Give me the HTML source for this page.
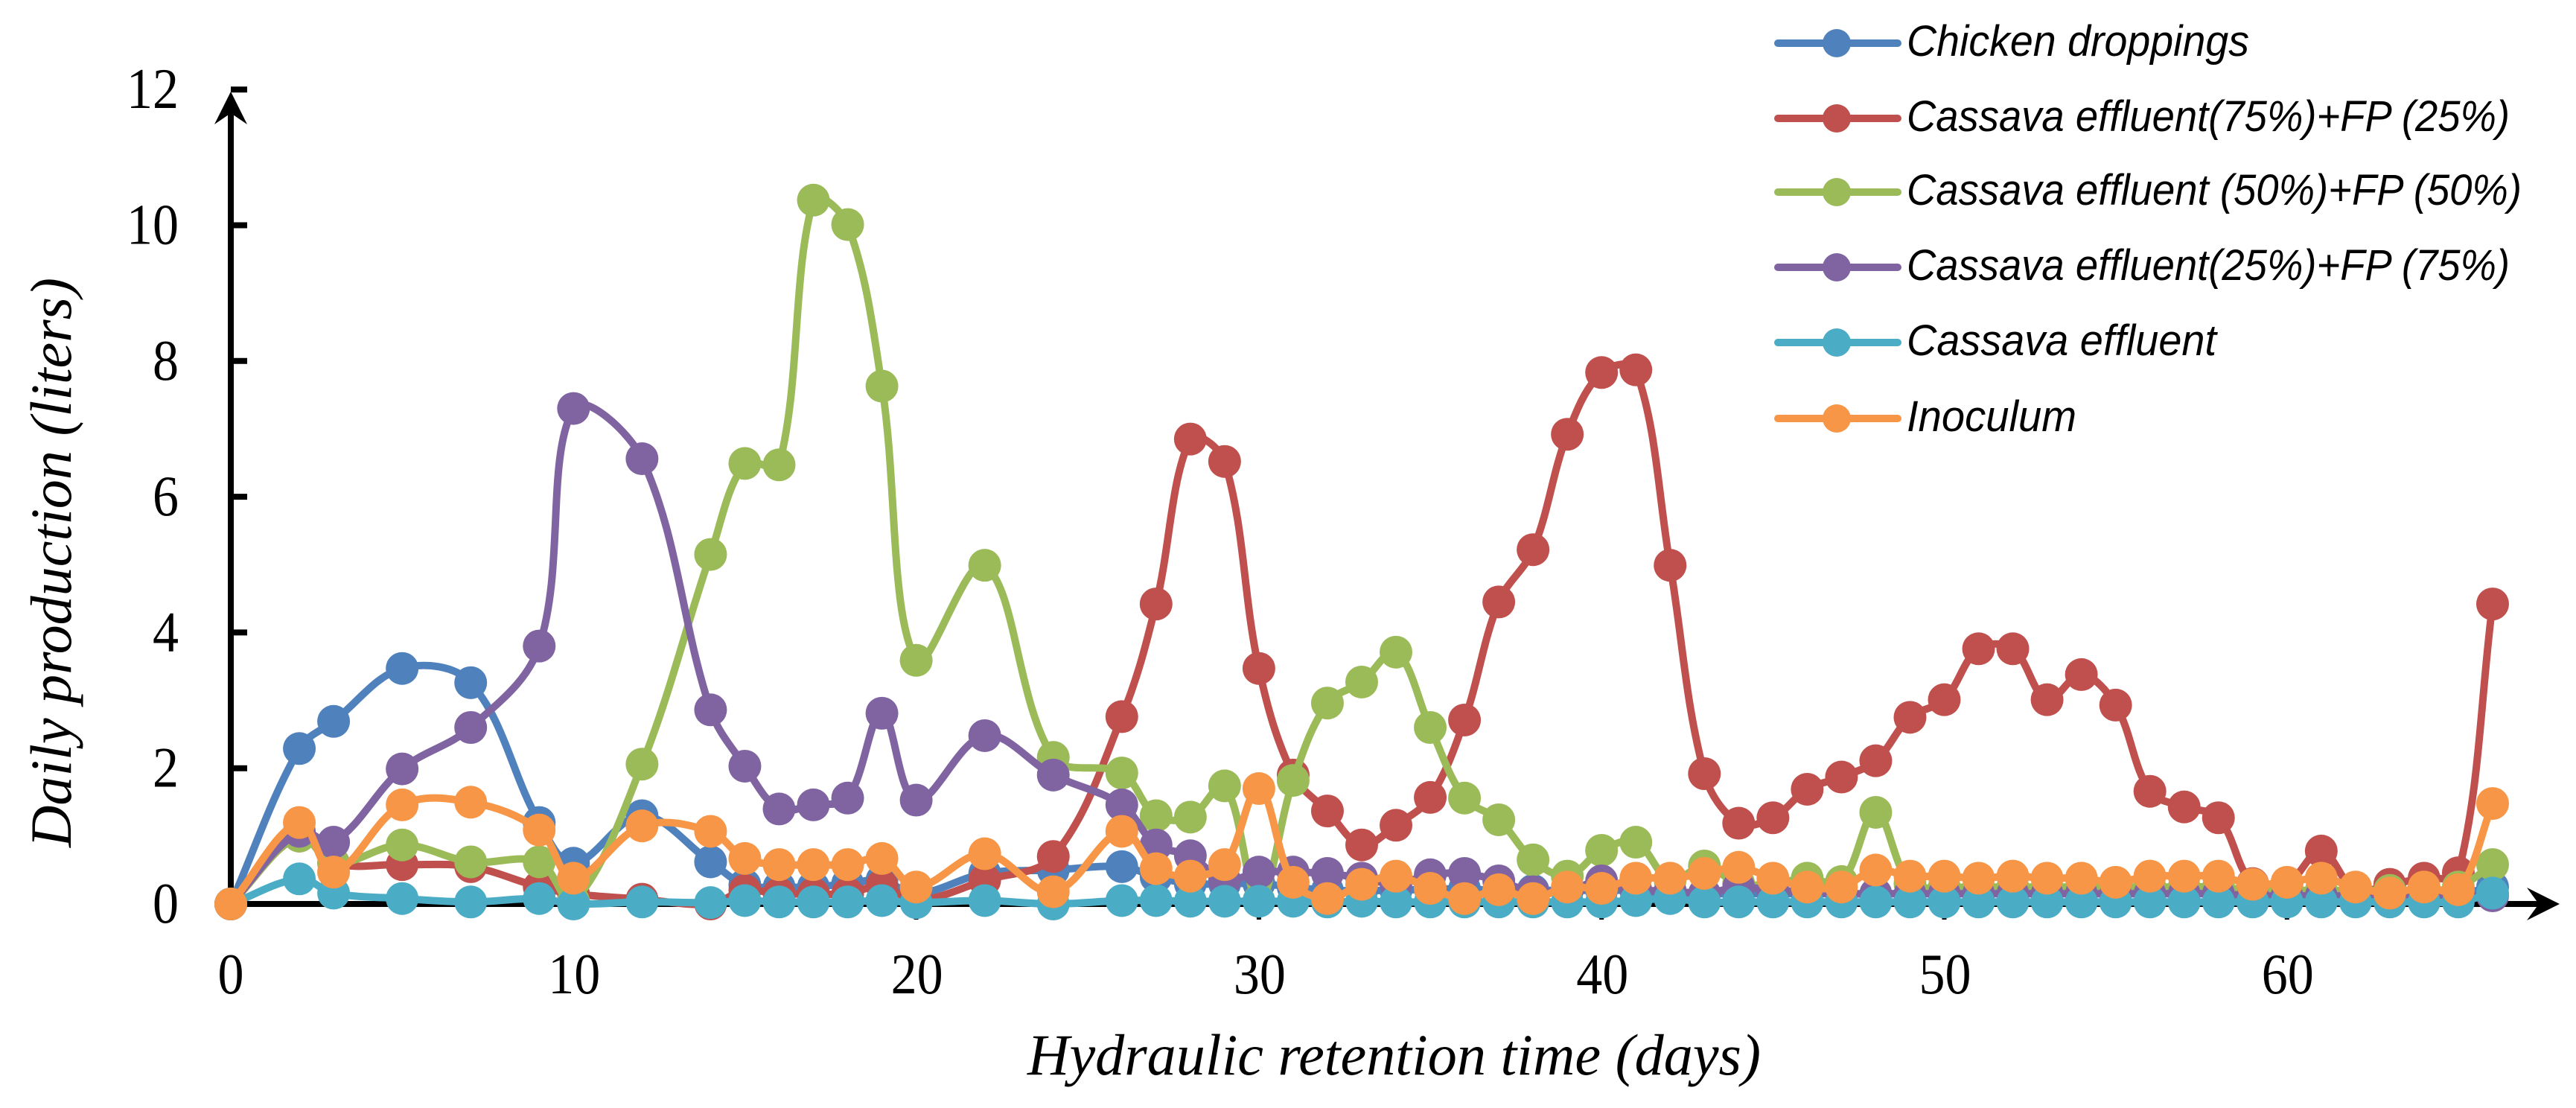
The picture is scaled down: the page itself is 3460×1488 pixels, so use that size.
<!DOCTYPE html>
<html lang="en">
<head>
<meta charset="utf-8">
<title>Daily production vs hydraulic retention time</title>
<style>
html,body{margin:0;padding:0;background:#fff;width:3460px;height:1488px;overflow:hidden}
svg{display:block}
.tick{font-family:"Liberation Serif",serif;font-size:77px;fill:#000}
.title{font-family:"Liberation Serif",serif;font-style:italic;font-size:78px;fill:#000}
.leg{font-family:"Liberation Sans",sans-serif;font-style:italic;font-size:58px;fill:#000}
</style>
</head>
<body>
<svg id="chart" xmlns="http://www.w3.org/2000/svg" width="3460" height="1488" viewBox="0 0 3460 1488">
  <rect width="3460" height="1488" fill="#fff"/>
  <g id="axes"></g>
  <g id="series"></g>
  <text class="title" x="1380" y="1443" textLength="985" lengthAdjust="spacingAndGlyphs">Hydraulic retention time (days)</text>
  <text class="title" transform="translate(95,1138) rotate(-90)" textLength="765" lengthAdjust="spacingAndGlyphs">Daily production (liters)</text>
  <g>
    <g>
      <line x1="2388" x2="2549" y1="58" y2="58" stroke="#4F81BD" stroke-width="10" stroke-linecap="round"/>
      <circle cx="2467" cy="58" r="19" fill="#4F81BD"/>
      <text class="leg" x="2561" y="75" textLength="460" lengthAdjust="spacingAndGlyphs">Chicken droppings</text>
    </g>
    <g>
      <line x1="2388" x2="2549" y1="159" y2="159" stroke="#C0504D" stroke-width="10" stroke-linecap="round"/>
      <circle cx="2467" cy="159" r="19" fill="#C0504D"/>
      <text class="leg" x="2561" y="176" textLength="810" lengthAdjust="spacingAndGlyphs">Cassava effluent(75%)+FP (25%)</text>
    </g>
    <g>
      <line x1="2388" x2="2549" y1="258" y2="258" stroke="#9BBB59" stroke-width="10" stroke-linecap="round"/>
      <circle cx="2467" cy="258" r="19" fill="#9BBB59"/>
      <text class="leg" x="2561" y="275" textLength="826" lengthAdjust="spacingAndGlyphs">Cassava effluent (50%)+FP (50%)</text>
    </g>
    <g>
      <line x1="2388" x2="2549" y1="359" y2="359" stroke="#8064A2" stroke-width="10" stroke-linecap="round"/>
      <circle cx="2467" cy="359" r="19" fill="#8064A2"/>
      <text class="leg" x="2561" y="376" textLength="810" lengthAdjust="spacingAndGlyphs">Cassava effluent(25%)+FP (75%)</text>
    </g>
    <g>
      <line x1="2388" x2="2549" y1="460" y2="460" stroke="#4BACC6" stroke-width="10" stroke-linecap="round"/>
      <circle cx="2467" cy="460" r="19" fill="#4BACC6"/>
      <text class="leg" x="2561" y="477" textLength="416" lengthAdjust="spacingAndGlyphs">Cassava effluent</text>
    </g>
    <g>
      <line x1="2388" x2="2549" y1="562" y2="562" stroke="#F79646" stroke-width="10" stroke-linecap="round"/>
      <circle cx="2467" cy="562" r="19" fill="#F79646"/>
      <text class="leg" x="2561" y="579" textLength="228" lengthAdjust="spacingAndGlyphs">Inoculum</text>
    </g>
  </g>
</svg>
<script>
const xTicks = [0, 10, 20, 30, 40, 50, 60];
const yTicks = [0, 2, 4, 6, 8, 10, 12];
const days = [0,2,3,5,7,9,10,12,14,15,16,17,18,19,20,22,24,26,27,28,29,30,31,32,33,34,35,36,37,38,39,40,41,42,43,44,45,46,47,48,49,50,51,52,53,54,55,56,57,58,59,60,61,62,63,64,65,66];
const chickenDroppings = [0,2.29,2.69,3.47,3.26,1.2,0.6,1.3,0.62,0.28,0.25,0.25,0.3,0.35,0.15,0.45,0.5,0.55,0.4,0.3,0.3,0.3,0.25,0.2,0.2,0.2,0.22,0.22,0.2,0.2,0.2,0.2,0.2,0.15,0.15,0.15,0.15,0.15,0.15,0.15,0.15,0.15,0.15,0.15,0.15,0.15,0.15,0.15,0.15,0.15,0.15,0.15,0.15,0.15,0.15,0.15,0.15,0.25];
const cassava75 = [0,1.0,0.6,0.58,0.55,0.25,0.15,0.07,0,0.2,0.15,0.15,0.15,0.27,0.05,0.35,0.7,2.76,4.42,6.85,6.52,3.47,1.9,1.37,0.87,1.16,1.57,2.71,4.45,5.22,6.92,7.83,7.87,4.99,1.92,1.19,1.27,1.69,1.87,2.11,2.75,3.01,3.76,3.76,3.01,3.38,2.93,1.66,1.43,1.27,0.3,0.3,0.78,0.2,0.29,0.38,0.46,4.42];
const cassava50 = [0,1.0,0.6,0.87,0.62,0.62,0.04,2.06,5.15,6.49,6.47,10.37,10.01,7.63,3.59,4.99,2.16,1.93,1.3,1.28,1.74,0.05,1.82,2.96,3.27,3.71,2.6,1.56,1.24,0.65,0.41,0.79,0.91,0.35,0.56,0.3,0.3,0.38,0.33,1.35,0.3,0.25,0.25,0.25,0.25,0.25,0.25,0.25,0.25,0.25,0.2,0.2,0.2,0.2,0.2,0.2,0.25,0.58];
const cassava25 = [0,1.07,0.91,1.99,2.6,3.8,7.3,6.56,2.86,2.03,1.4,1.46,1.56,2.81,1.53,2.48,1.9,1.46,0.87,0.71,0.35,0.47,0.47,0.45,0.38,0.3,0.43,0.45,0.34,0.18,0.2,0.34,0.2,0.2,0.15,0.25,0.2,0.18,0.15,0.15,0.15,0.15,0.15,0.15,0.15,0.15,0.15,0.15,0.15,0.15,0.12,0.12,0.12,0.12,0.12,0.12,0.12,0.12];
const cassavaEffluent = [0,0.37,0.16,0.08,0.03,0.08,0,0.03,0.02,0.05,0.03,0.03,0.03,0.05,0.02,0.05,0,0.05,0.05,0.04,0.04,0.04,0.04,0.03,0.04,0.03,0.03,0.03,0.03,0.03,0.03,0.03,0.05,0.08,0.03,0.03,0.03,0.03,0.03,0.03,0.03,0.03,0.03,0.03,0.03,0.03,0.03,0.03,0.03,0.03,0.03,0.03,0.03,0.03,0.03,0.03,0.03,0.16];
const inoculum = [0,1.2,0.47,1.46,1.5,1.09,0.38,1.15,1.07,0.67,0.58,0.58,0.58,0.67,0.25,0.74,0.18,1.07,0.52,0.41,0.58,1.7,0.32,0.08,0.29,0.41,0.23,0.08,0.21,0.08,0.25,0.23,0.38,0.38,0.45,0.54,0.38,0.25,0.25,0.5,0.41,0.41,0.38,0.41,0.38,0.38,0.32,0.41,0.41,0.41,0.29,0.32,0.38,0.25,0.16,0.25,0.21,1.48];
const seriesNames = ["chicken-droppings","cassava-75","cassava-50","cassava-25","cassava-effluent","inoculum"];
const seriesValues = [chickenDroppings, cassava75, cassava50, cassava25, cassavaEffluent, inoculum];
const seriesColors = ["#4F81BD","#C0504D","#9BBB59","#8064A2","#4BACC6","#F79646"];

const NS = "http://www.w3.org/2000/svg";
const xScale = d => 310 + 46.03 * d;
const yScale = v => 1214 - 91.15 * v;

function make(tag, attrs, parent) {
  const el = document.createElementNS(NS, tag);
  for (const k in attrs) el.setAttribute(k, attrs[k]);
  parent.appendChild(el);
  return el;
}

const axes = document.getElementById("axes");

const xAxisLine = make("line", {x1: 306, x2: 3410, y1: yScale(0), y2: yScale(0), stroke: "#000", "stroke-width": 8}, axes);



const yAxisLine = make("line", {x1: xScale(0), x2: xScale(0), y1: 1218, y2: 150, stroke: "#000", "stroke-width": 8}, axes);



const xArrow = make("path", {d: "M3438 1214L3394 1192L3410 1214L3394 1236Z", fill: "#000"}, axes);



const yArrow = make("path", {d: "M310 123L332 167L310 152L288 167Z", fill: "#000"}, axes);



xTicks.forEach(t => {
  const mark = make("line", {x1: xScale(t), x2: xScale(t), y1: yScale(0), y2: yScale(0) + 21, stroke: "#000", "stroke-width": 6}, axes);
  
  
  const label = make("text", {class: "tick", x: xScale(t) + (t ? 1 : 0), y: 1334, "text-anchor": "middle", textLength: String(t).length * 35, lengthAdjust: "spacingAndGlyphs"}, axes);
  
  
  label.textContent = t;
});

yTicks.forEach(t => {
  const mark = make("line", {x1: xScale(0), x2: xScale(0) + 22, y1: yScale(t), y2: yScale(t), stroke: "#000", "stroke-width": 8}, axes);
  
  
  const label = make("text", {class: "tick", x: 240, y: yScale(t) + 25, "text-anchor": "end", textLength: String(t).length * 35, lengthAdjust: "spacingAndGlyphs"}, axes);
  
  
  label.textContent = t;
});

function tangentHandle(prev, cur, next, toward) {
  const d1 = Math.hypot(cur[0] - prev[0], cur[1] - prev[1]);
  const d2 = Math.hypot(next[0] - cur[0], next[1] - cur[1]);
  const total = d1 + d2 || 1;
  const f = 0.36 * (toward > 0 ? d2 : d1) / total;
  return [cur[0] + toward * (next[0] - prev[0]) * f, cur[1] + toward * (next[1] - prev[1]) * f];
}

function smoothPath(pts) {
  let d = "M" + pts[0][0].toFixed(1) + " " + pts[0][1].toFixed(1);
  for (let i = 0; i < pts.length - 1; i++) {
    const p0 = pts[i - 1] || pts[i], p1 = pts[i], p2 = pts[i + 1], p3 = pts[i + 2] || p2;
    const c1 = tangentHandle(p0, p1, p2, 1);
    const c2 = tangentHandle(p1, p2, p3, -1);
    d += "C" + [c1[0], c1[1], c2[0], c2[1], p2[0], p2[1]].map(n => n.toFixed(1)).join(" ");
  }
  return d;
}

const seriesGroup = document.getElementById("series");
seriesValues.forEach((vals, s) => {
  const g = make("g", {}, seriesGroup);
  
  
  const pts = days.map((d, i) => [xScale(d), yScale(vals[i])]);
  const line = make("path", {d: smoothPath(pts), fill: "none", stroke: seriesColors[s], "stroke-width": 10, "stroke-linejoin": "round"}, g);
  
  
  pts.forEach(p => {
    const dot = make("circle", {cx: p[0], cy: p[1], r: 22, fill: seriesColors[s]}, g);
    
    
  });
});
</script>
</body>
</html>
